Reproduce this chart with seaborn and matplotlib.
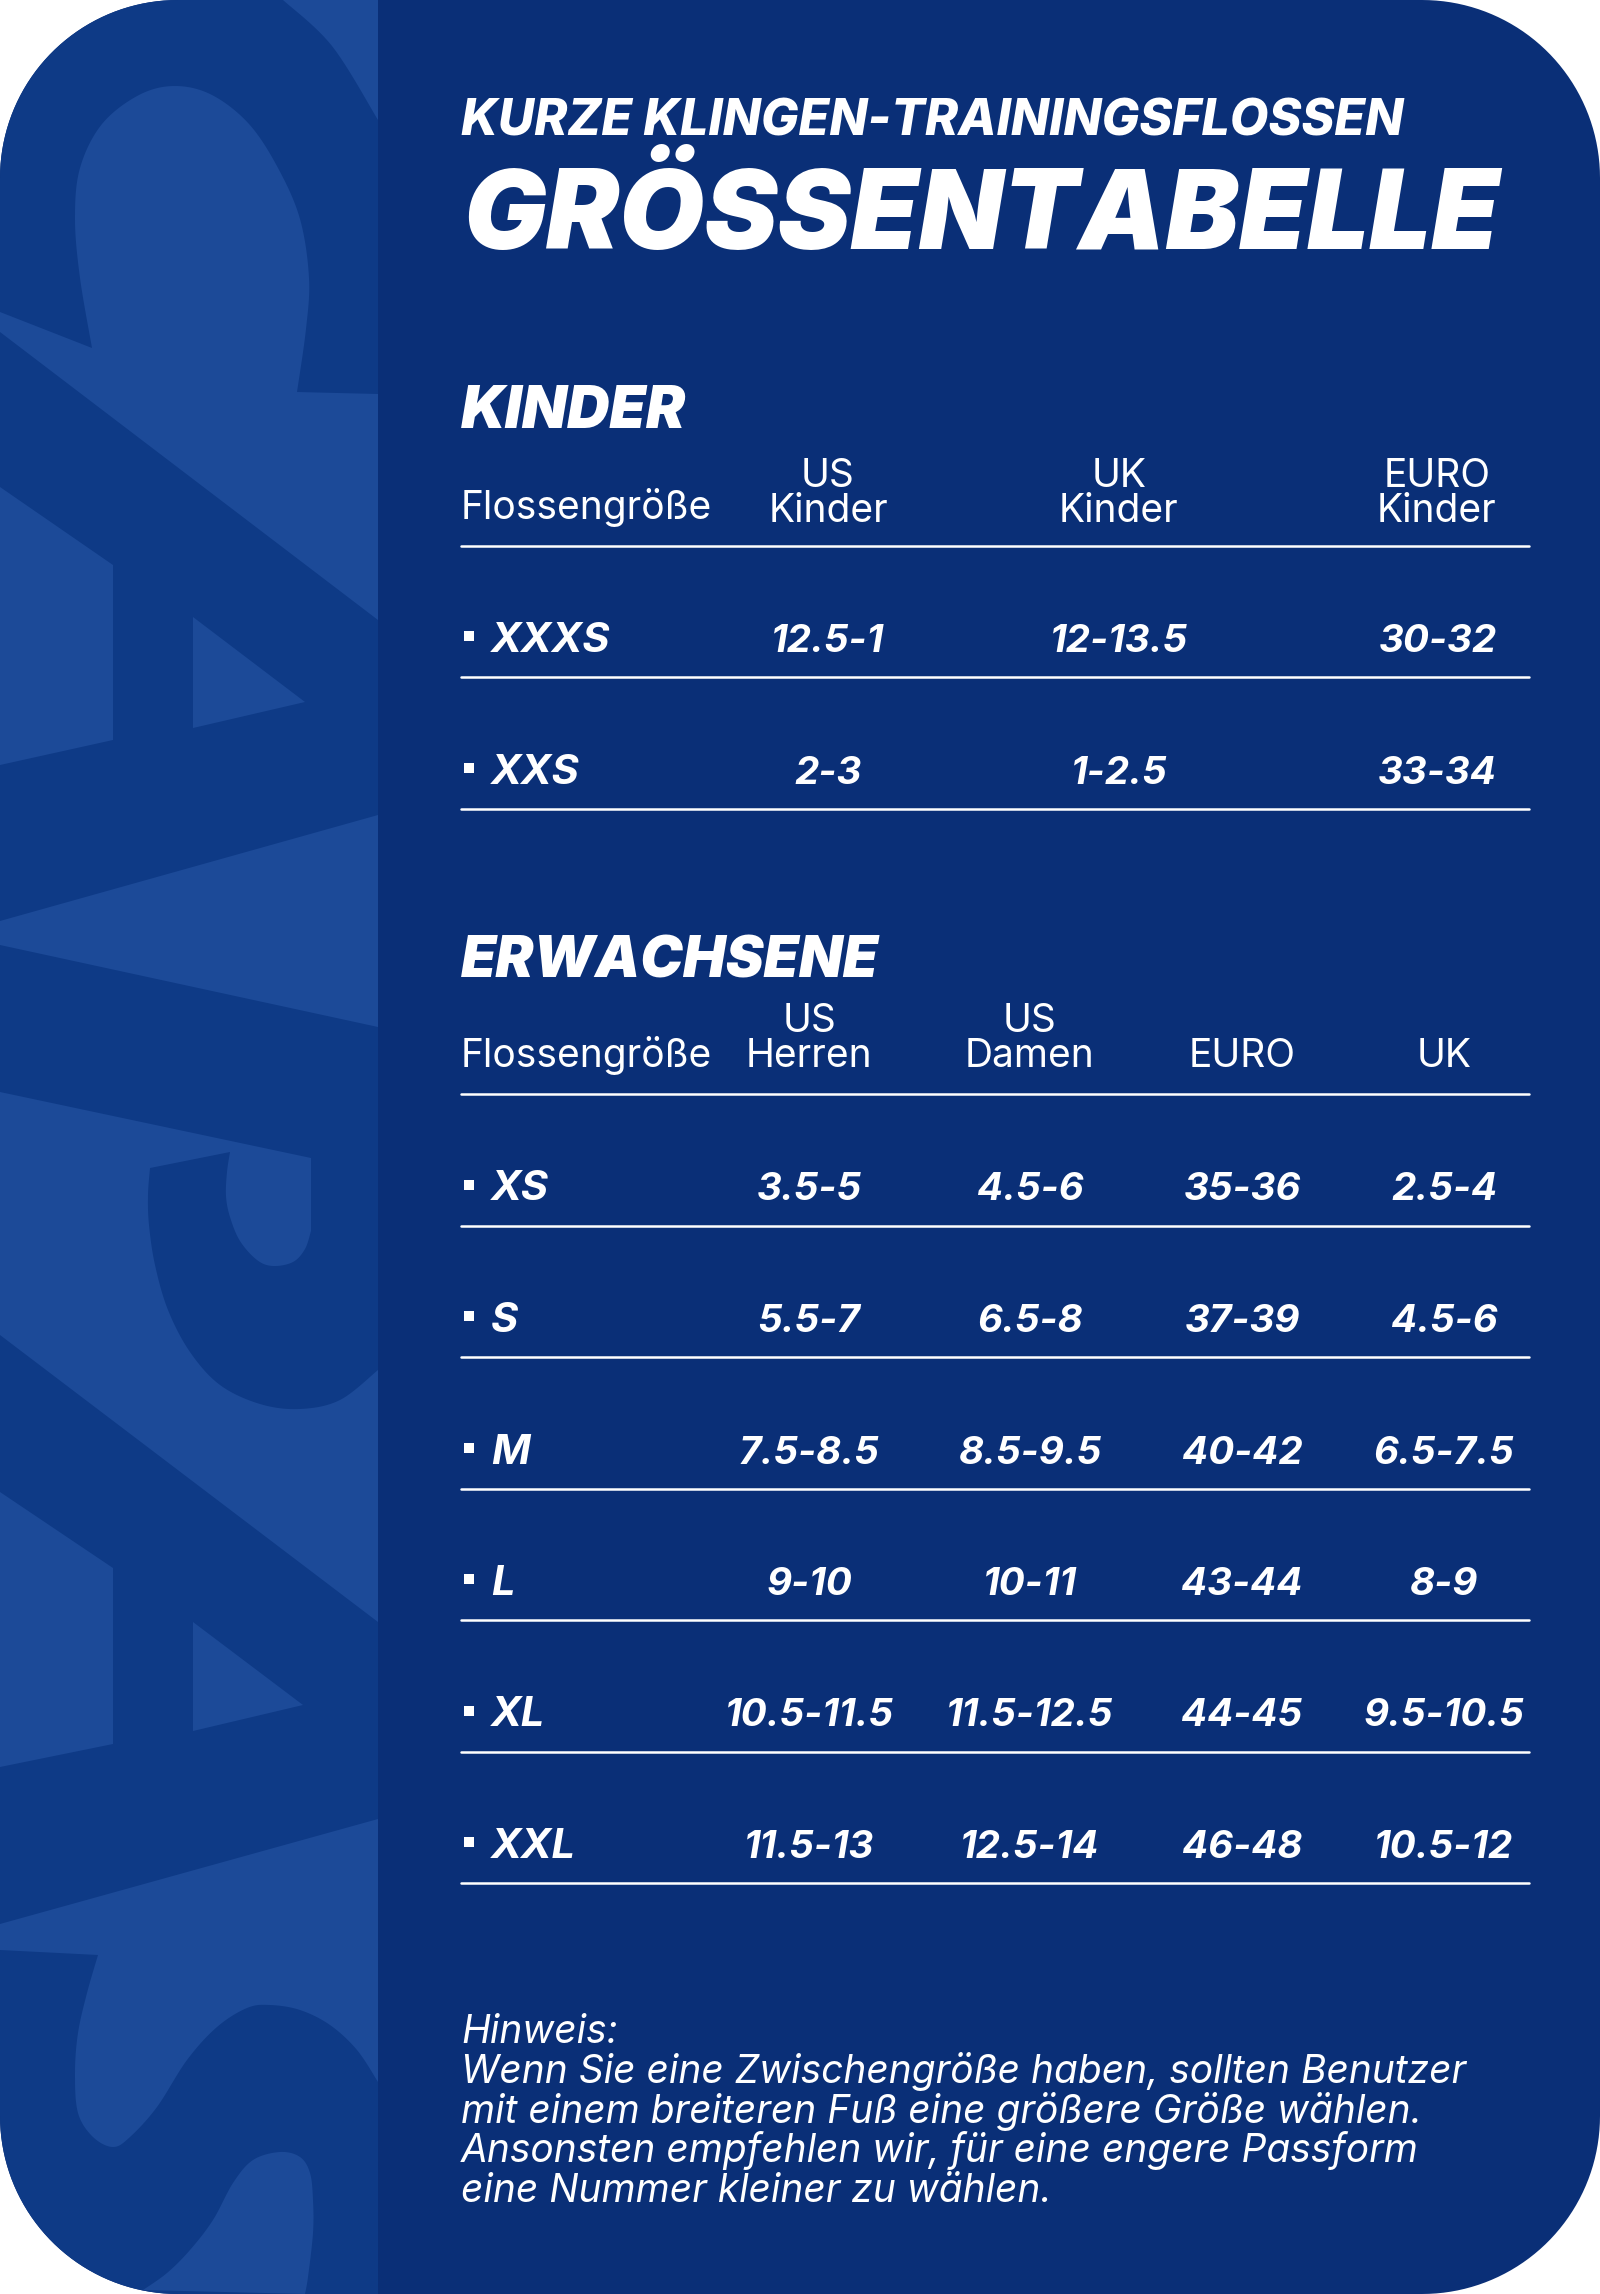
import numpy as np
import pandas as pd
import matplotlib
matplotlib.use("Agg")
import matplotlib.pyplot as plt
import seaborn as sns
from matplotlib.patches import Polygon, Rectangle

kids_headers = ["US\nKinder", "UK\nKinder", "EURO\nKinder"]
kids_sizes = ["XXXS", "XXS"]
kids_us = ["12.5-1", "2-3"]
kids_uk = ["12-13.5", "1-2.5"]
kids_euro = ["30-32", "33-34"]

adult_headers = ["US\nHerren", "US\nDamen", "EURO", "UK"]
adult_sizes = ["XS", "S", "M", "L", "XL", "XXL"]
adult_us_men = ["3.5-5", "5.5-7", "7.5-8.5", "9-10", "10.5-11.5", "11.5-13"]
adult_us_women = ["4.5-6", "6.5-8", "8.5-9.5", "10-11", "11.5-12.5", "12.5-14"]
adult_euro = ["35-36", "37-39", "40-42", "43-44", "44-45", "46-48"]
adult_uk = ["2.5-4", "4.5-6", "6.5-7.5", "8-9", "9.5-10.5", "10.5-12"]

note_lines = [
    "Hinweis:",
    "Wenn Sie eine Zwischengröße haben, sollten Benutzer",
    "mit einem breiteren Fuß eine größere Größe wählen.",
    "Ansonsten empfehlen wir, für eine engere Passform",
    "eine Nummer kleiner zu wählen.",
]

BG = "#0a2f77"
DARK = "#0e3a86"
LIGHT = "#1c4a98"
FONT = "Inter"

sns.set_theme(style="white")

fig = plt.figure(figsize=(16, 22.94), dpi=100, facecolor="white")
ax = fig.add_axes([0, 0, 1, 1])
ax.set_xlim(0, 1600)
ax.set_ylim(2294, 0)
ax.axis("off")


def round_card(w, h, r):
    out = []
    for cx, cy, a0 in [(r, r, 180), (w - r, r, 270), (w - r, h - r, 0), (r, h - r, 90)]:
        for a in np.radians(np.linspace(a0, a0 + 90, 40)):
            out.append((cx + r * np.cos(a), cy + r * np.sin(a)))
    return out


card = Polygon(round_card(1600, 2294, 178), closed=True, fc=BG, ec="none", zorder=1)
ax.add_patch(card)


def smooth(pts, n=12):
    pts = np.array(pts, dtype=float)
    p = np.vstack([pts[0], pts, pts[-1]])
    out = []
    for i in range(1, len(p) - 2):
        for t in np.linspace(0, 1, n, endpoint=False):
            out.append(0.5 * (2 * p[i] + (p[i + 1] - p[i - 1]) * t
                              + (2 * p[i - 1] - 5 * p[i] + 4 * p[i + 1] - p[i + 2]) * t ** 2
                              + (3 * p[i] - p[i - 1] - 3 * p[i + 1] + p[i + 2]) * t ** 3))
    out.append(pts[-1])
    return [tuple(a) for a in out]


def shape(pts, color, z=3):
    poly = Polygon(pts, closed=True, fc=color, ec="none", zorder=z)
    ax.add_patch(poly)
    poly.set_clip_path(card)


# backdrop lettering on the left strip
strip = Rectangle((0, 0), 378, 2294, fc=DARK, ec="none", zorder=2)
ax.add_patch(strip)
strip.set_clip_path(card)

shape([(378, 0)] + smooth([(378, 120), (332, 46), (283, 0)]), LIGHT)
shape([(0, 312)]
      + smooth([(92, 348), (80, 278), (75, 219), (80, 168), (102, 124), (139, 95), (175, 86), (212, 95), (249, 124), (278, 168), (300, 219), (309, 278), (306, 329), (297, 392)])
      + [(378, 394), (378, 620), (0, 332)], LIGHT)
shape([(0, 487), (113, 565), (113, 740), (0, 765)], LIGHT)
shape([(193, 617), (305, 702), (193, 728)], LIGHT)
shape([(0, 921), (378, 815), (378, 1027), (0, 945)], LIGHT)
shape([(0, 1092), (311, 1158)]
      + smooth([(311, 1231), (305, 1249), (293, 1262), (273, 1266), (257, 1260), (240, 1241), (230, 1217), (226, 1196), (227, 1172), (230, 1152)])
      + smooth([(150, 1168), (148, 1195), (149, 1225), (155, 1265), (168, 1310), (190, 1352), (220, 1385), (260, 1404), (300, 1409), (340, 1400), (378, 1370)])
      + [(378, 1622), (0, 1335)], LIGHT)
shape([(0, 1492), (113, 1568), (113, 1744), (0, 1767)], LIGHT)
shape([(193, 1622), (303, 1705), (193, 1731)], LIGHT)
shape([(0, 1924), (378, 1819)]
      + smooth([(378, 2082), (357, 2050), (330, 2025), (300, 2010), (270, 2005), (247, 2008), (217, 2027), (187, 2060), (157, 2107), (130, 2137), (113, 2147), (93, 2137), (78, 2113), (75, 2073), (78, 2033), (87, 1993), (98, 1955)])
      + [(0, 1950)], LIGHT)
shape(smooth([(143, 2290), (167, 2273), (190, 2250), (213, 2220), (233, 2183), (253, 2160), (280, 2152), (300, 2157), (310, 2173), (313, 2200), (313, 2233), (308, 2277), (305, 2294)]), LIGHT)


def put(x, y, s, size, weight="normal", style="normal", ha="left"):
    return ax.text(x, y, s, fontsize=size, family=FONT, weight=weight, style=style,
                   ha=ha, va="baseline", color="white", zorder=5)


# titles
put(461, 135, "KURZE KLINGEN-TRAININGSFLOSSEN", 36, 800, "italic")
put(463, 249, "GRÖSSENTABELLE", 79, "black", "italic")
put(461, 428, "KINDER", 42.3, "black", "italic")
put(461, 977, "ERWACHSENE", 41, "black", "italic")


def draw_table(floss_base, head_base, first_rule, sizes, columns, headers, centers):
    put(461, floss_base, "Flossengröße", 28)
    for cx, head in zip(centers, headers):
        parts = head.split("\n")
        for k, part in enumerate(reversed(parts)):
            put(cx, head_base - 35 * k, part, 28, ha="center")
    rows = np.arange(len(sizes) + 1)
    rule_y = first_rule + rows * 131.5
    rules = pd.DataFrame({
        "x": np.tile([461, 1529], len(rows)),
        "y": np.repeat(rule_y, 2),
        "row": np.repeat(rows, 2),
    })
    sns.lineplot(data=rules, x="x", y="y", units="row", estimator=None, color="white",
                 linewidth=1.8, ax=ax, legend=False, zorder=4, sort=False)
    marks = pd.DataFrame({"x": 468.5, "y": rule_y[1:] - 41})
    sns.scatterplot(data=marks, x="x", y="y", marker="s", s=62, color="white", linewidth=0,
                    ax=ax, legend=False, zorder=4)
    for i, label in enumerate(sizes):
        base = rule_y[i + 1] - 25
        put(491, base, label, 30, "bold", "italic")
        for cx, col in zip(centers, columns):
            put(cx, base, col[i], 27.8, "bold", "italic", ha="center")


draw_table(519, 522, 545.5, kids_sizes, [kids_us, kids_uk, kids_euro], kids_headers, [828, 1119, 1437])
draw_table(1067, 1067, 1094, adult_sizes, [adult_us_men, adult_us_women, adult_euro, adult_uk], adult_headers, [809, 1030, 1242, 1444])

ax.set_xlim(0, 1600)
ax.set_ylim(2294, 0)
ax.set_xlabel("")
ax.set_ylabel("")

note_base = [2043, 2083, 2123, 2162, 2202]
for y, line in zip(note_base, note_lines):
    put(461, y, line, 28, "normal", "italic")

fig.savefig("out.png", dpi=100, facecolor="white")
